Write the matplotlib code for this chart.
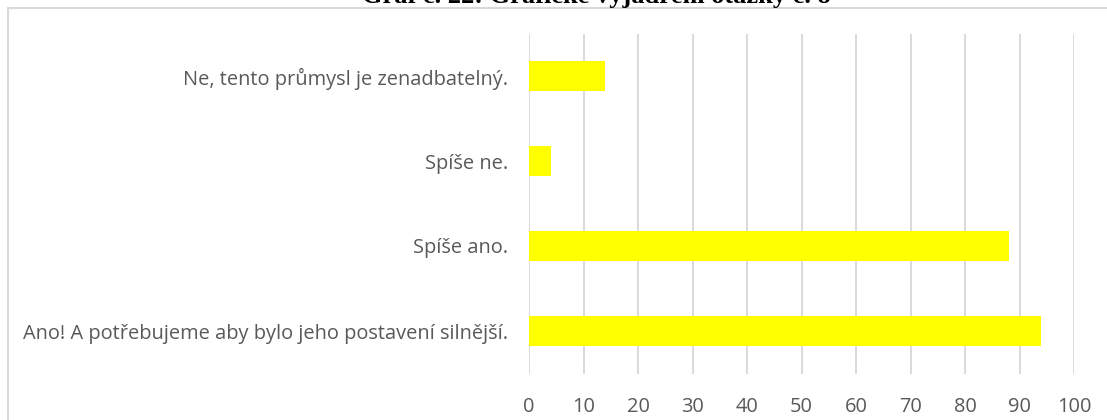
import matplotlib
matplotlib.use("Agg")
import matplotlib.pyplot as plt
from matplotlib.patches import Rectangle

# data (bottom to top, as in the chart)
odpovedi = [
    "Ano! A potřebujeme aby bylo jeho postavení silnější.",
    "Spíše ano.",
    "Spíše ne.",
    "Ne, tento průmysl je zenadbatelný.",
]
hodnoty = [94, 88, 4, 14]
x_ticks = [0, 10, 20, 30, 40, 50, 60, 70, 80, 90, 100]
titulek = "Graf č. 22: Grafické vyjádření otázky č. 8"

sedy_text = "#595959"
mrizka = "#d9d9d9"

fig = plt.figure(figsize=(11.07, 4.2), dpi=100)

# light frame of the chart area (right/bottom edges run off the picture)
ramecek = Rectangle((8 / 1107, -0.05), 1.1, 1 - 8 / 420 + 0.05,
                    transform=fig.transFigure, fill=False,
                    edgecolor=mrizka, linewidth=1.5)
fig.patches.append(ramecek)

ax = fig.add_axes([529 / 1107, 46.5 / 420, 545 / 1107, 340 / 420])
ax.barh(range(len(odpovedi)), hodnoty, height=0.35, color="#ffff00", zorder=3)

ax.set_xlim(0, 100)
ax.set_ylim(-0.5, 3.5)
ax.set_xticks(x_ticks)
ax.set_yticks(range(len(odpovedi)))
ax.set_yticklabels(odpovedi)
ax.grid(axis="x", color=mrizka, linewidth=1.4, zorder=0)
ax.set_axisbelow(True)
for s in ax.spines.values():
    s.set_visible(False)
ax.tick_params(axis="both", length=0, labelsize=14.4, labelcolor=sedy_text)
ax.tick_params(axis="y", pad=15)
ax.tick_params(axis="x", pad=17)
for t in ax.get_xticklabels() + ax.get_yticklabels():
    t.set_fontfamily("Open Sans")

# title is cut off at the top of the picture
fig.text(596 / 1107, 1 - 3 / 420, titulek, ha="center", va="baseline",
         fontsize=19, fontweight="bold", family="Liberation Serif")

fig.savefig("out.png", dpi=100)
